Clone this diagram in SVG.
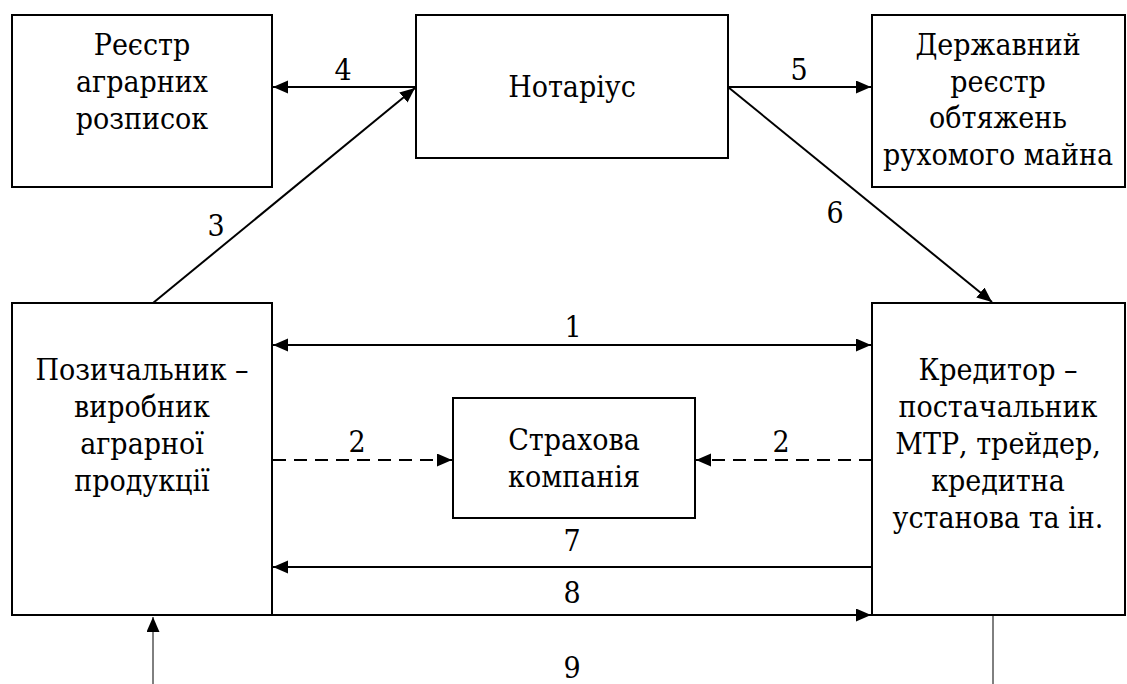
<svg xmlns="http://www.w3.org/2000/svg" width="1127" height="684" viewBox="0 0 1127 684">
<style>
.box{fill:#fff;stroke:#000;stroke-width:2}
.t{font-family:'DejaVu Serif',serif;font-stretch:condensed;font-size:30px;fill:#000;text-anchor:middle}
.c{stroke:#000;stroke-width:2;fill:none}
.thin{stroke:#000;stroke-width:1;fill:none}
.d{stroke-dasharray:13 8}
</style>
<defs>
<marker id="ah" markerUnits="userSpaceOnUse" markerWidth="16" markerHeight="14" refX="15" refY="6.5" orient="auto-start-reverse">
<path d="M0,0 L15,6.5 L0,13 z" fill="#000"/>
</marker>
</defs>
<rect width="1127" height="684" fill="#fff"/>
<g id="connectors">
<line class="c" x1="416" y1="87" x2="273" y2="87" marker-end="url(#ah)"/>
<line class="c" x1="728" y1="87" x2="871" y2="87" marker-end="url(#ah)"/>
<line class="c" x1="153" y1="303" x2="415" y2="88" marker-end="url(#ah)"/>
<line class="c" x1="728" y1="87" x2="992" y2="302" marker-end="url(#ah)"/>
<line class="c" x1="273" y1="345" x2="871" y2="345" marker-start="url(#ah)" marker-end="url(#ah)"/>
<line class="c d" x1="273" y1="460" x2="452" y2="460" marker-end="url(#ah)"/>
<line class="c d" x1="872" y1="460" x2="696" y2="460" marker-end="url(#ah)"/>
<line class="c" x1="872" y1="567" x2="273" y2="567" marker-end="url(#ah)"/>
<line class="c" x1="272" y1="615" x2="871" y2="615" marker-end="url(#ah)"/>
<line class="thin" x1="153" y1="684" x2="153" y2="617" marker-end="url(#ah)"/>
<line class="thin" x1="993" y1="616" x2="993" y2="684"/>
</g>
<g id="labels">
<text class="t" x="343" y="80">4</text>
<text class="t" x="799" y="80">5</text>
<text class="t" x="216" y="236">3</text>
<text class="t" x="835" y="223">6</text>
<text class="t" x="573" y="337">1</text>
<text class="t" x="357" y="452">2</text>
<text class="t" x="781" y="452">2</text>
<text class="t" x="572" y="551">7</text>
<text class="t" x="572" y="603">8</text>
<text class="t" x="572" y="678">9</text>
</g>
<g id="reestr">
<rect class="box" x="12" y="15" width="260" height="172"/>
<text class="t" x="142" y="55">Реєстр</text>
<text class="t" x="142" y="92">аграрних</text>
<text class="t" x="142" y="129">розписок</text>
</g>
<g id="notarius">
<rect class="box" x="416" y="15" width="312" height="143"/>
<text class="t" x="572" y="97">Нотаріус</text>
</g>
<g id="derzhreestr">
<rect class="box" x="872" y="15" width="253" height="172"/>
<text class="t" x="998" y="55">Державний</text>
<text class="t" x="998" y="92">реєстр</text>
<text class="t" x="998" y="128">обтяжень</text>
<text class="t" x="998" y="165">рухомого майна</text>
</g>
<g id="pozychalnyk">
<rect class="box" x="12" y="303" width="260" height="312"/>
<text class="t" x="142" y="380">Позичальник –</text>
<text class="t" x="142" y="417">виробник</text>
<text class="t" x="142" y="454">аграрної</text>
<text class="t" x="142" y="491">продукції</text>
</g>
<g id="strakhova">
<rect class="box" x="453" y="398" width="242" height="120"/>
<text class="t" x="574" y="450">Страхова</text>
<text class="t" x="574" y="487">компанія</text>
</g>
<g id="kredytor">
<rect class="box" x="872" y="303" width="253" height="312"/>
<text class="t" x="998" y="380">Кредитор –</text>
<text class="t" x="998" y="417">постачальник</text>
<text class="t" x="998" y="454">МТР, трейдер,</text>
<text class="t" x="998" y="491">кредитна</text>
<text class="t" x="998" y="528">установа та ін.</text>
</g>
</svg>
